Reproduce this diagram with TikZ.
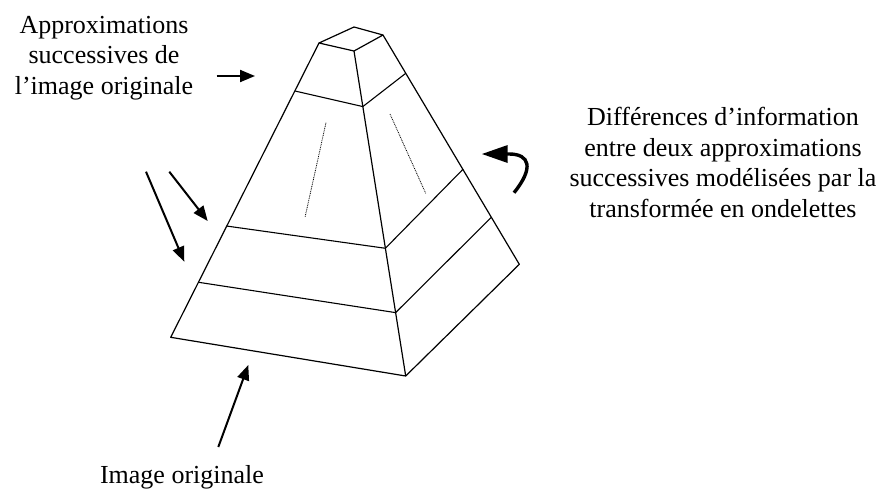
\documentclass[tikz,border=0pt]{standalone}
\usepackage{fontspec}
\setmainfont{Liberation Serif}
\usetikzlibrary{arrows.meta, calc}

\begin{document}
\begin{tikzpicture}[x=1pt,y=-1pt,
    edge/.style={line width=1.2pt,line join=round},
    band/.style={line width=1.1pt},
    hint/.style={line width=0.8pt,dash pattern=on 0.9pt off 0.9pt},
    arr/.style={line width=2pt,-{Triangle[length=15pt,width=12pt]}},
    lbl/.style={align=center,font=\fontsize{26}{30.5}\selectfont,anchor=base,inner sep=0pt}]
    \useasboundingbox (0,0) rectangle (881,488);
    % Pyramid corners
    \coordinate (tl) at (319,43);
    \coordinate (tb) at (354,27);
    \coordinate (tr) at (383,35);
    \coordinate (tf) at (354,51);
    \coordinate (bl) at (170.7,337.3);
    \coordinate (bf) at (405.7,376);
    \coordinate (br) at (519.3,264.3);
    % Edges
    \draw[edge] (tl) -- (tb) -- (tr) -- (tf) -- cycle;
    \draw[edge] (tl) -- (bl) -- (bf) -- (br) -- (tr);
    \draw[edge] (tf) -- (bf);
    % Levels
    \foreach \l/\f/\r in {0.163/0.171/0.167, 0.622/0.607/0.586, 0.813/0.805/0.795}
      \draw[band] ($(tl)!\l!(bl)$) -- ($(tf)!\f!(bf)$) -- ($(tr)!\r!(br)$);
    \draw[hint] (326,122.7) -- (305,217.3);
    \draw[hint] (390,114) -- (425.7,193.3);
    % Labels (base = last line)
    \node[lbl] (approx) at (104,94) {Approximations\\successives de\\l’image originale};
    \node[lbl] (diff) at (723,217) {Différences d’information\\entre deux approximations\\successives modélisées par la\\transformée en ondelettes};
    \node[lbl] (orig) at (182,483) {Image originale};
    % Arrows
    \coordinate (approxS) at (216.7,76);
    \coordinate (approxT) at (255,76);
    \coordinate (sideS1) at (146,171.7);
    \coordinate (sideT1) at (184.3,261.7);
    \coordinate (sideS2) at (169.3,171.7);
    \coordinate (sideT2) at (207.7,221);
    \coordinate (origS) at (218.3,447);
    \coordinate (origT) at (248.3,365);
    \coordinate (diffS) at (514,192.7);
    \coordinate (diffT) at (481.7,154);
    \draw[arr] (approxS) -- (approxT);
    \draw[arr] (sideS1) -- (sideT1);
    \draw[arr] (sideS2) -- (sideT2);
    \draw[arr] (origS) -- (origT);
    \draw[line width=3.4pt,-{Triangle[length=26pt,width=17pt]}]
      (diffS) .. controls (534,168) and (530,154) .. (509,154) -- (diffT);
  \end{tikzpicture}
\end{document}
